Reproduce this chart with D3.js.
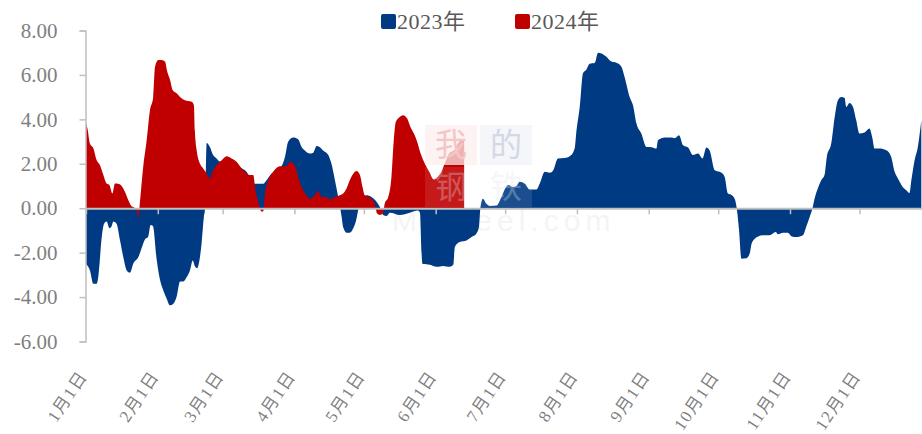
<!DOCTYPE html>
<html>
<head>
<meta charset="utf-8">
<script src="https://cdn.jsdelivr.net/npm/d3@7/dist/d3.min.js"></script>
<style>
  html, body { margin: 0; padding: 0; background: #fff; }
  svg { display: block; }
</style>
</head>
<body>
<svg id="chart" width="922" height="434"></svg>
<script>
// day-of-year offsets (0 = 1月1日) and values
const days2023 = [0, 1.7, 3.2, 4.6, 5.3, 6.8, 7.8, 8.9, 10.1, 11.1, 11.8, 13.2, 14.7, 16.1, 17.6, 19, 20.4, 22.6, 24, 25.5, 26.8, 27.9, 28.9, 30.5, 31.9, 33.4, 34.8, 36.3, 37.7, 39.1, 40.6, 42, 43.5, 44.9, 46.1, 47, 48, 48.9, 49.9, 50.9, 51.4, 52.1, 53.5, 54.9, 56.4, 57.8, 60, 63, 66.5, 69.4, 72.2, 76.5, 78, 80.1, 83, 85.9, 87.3, 89.5, 91.6, 93.1, 94.5, 96.7, 98.1, 99.6, 101, 102.4, 104.6, 106, 107.5, 108.9, 109.6, 110.4, 111, 112.5, 113.9, 115.4, 116.8, 117.5, 119.1, 121.1, 123.3, 125.5, 126.9, 128.3, 129.8, 131.2, 135.5, 139.8, 143.3, 144.2, 144.9, 145.3, 148.5, 151.4, 154.2, 157.1, 158.6, 159.3, 161.4, 164.3, 166.5, 168.6, 169.7, 170.3, 171.4, 172.9, 174.4, 177.3, 179.4, 180.8, 182.3, 184.4, 185.9, 187.3, 189.5, 191.6, 194.5, 195.9, 198.1, 200.3, 201.7, 203.8, 206.7, 208.9, 211, 211.8, 213.2, 214.6, 216.1, 217.5, 219.7, 221.1, 222.6, 224.7, 226.9, 229, 231.2, 232.6, 234.8, 236.2, 237.7, 239.8, 242, 244.2, 246.3, 247, 249.9, 252.8, 254.2, 256.1, 257.8, 260, 262.1, 264.3, 266.2, 267.9, 269.3, 271.5, 274.4, 275.8, 277.2, 278.7, 280.1, 281, 282, 283, 285.2, 286.6, 287.4, 288.8, 290.2, 292.3, 295.2, 297.8, 298.8, 301, 303.1, 304.6, 306.7, 309.6, 311, 312.5, 313.6, 314.6, 316, 317.5, 318.9, 319.9, 321.8, 323.3, 324.7, 326.2, 327.6, 328.3, 329.7, 331.2, 332.6, 334, 336.2, 338.3, 339.5, 340.5, 342.6, 345.6, 347.7, 349.2, 350.6, 352.7, 354.2, 355.6, 356.4, 357.8, 359.2, 360.7]
const values2023 = [-2.5, -2.8, -3.4, -3.4, -3.1, -1.3, -0.7, -0.6, -0.9, -0.8, -0.6, -0.7, -1.45, -2.2, -2.8, -2.9, -2.5, -2.2, -1.8, -1.4, -1.3, -0.75, -0.8, -2.3, -3.2, -3.7, -4.06, -4.37, -4.3, -4.0, -3.3, -3.3, -3.1, -2.8, -2.35, -2.6, -2.7, -2.4, -1.6, -0.4, 0, 2.94, 2.76, 2.39, 2.24, 2.1, 2.15, 2.2, 1.86, 1.63, 1.1, 1.1, 1.26, 1.55, 1.7, 2.3, 2.99, 3.18, 3.1, 2.76, 2.6, 2.46, 2.5, 2.8, 2.75, 2.6, 2.4, 2.0, 1.26, 0.5, 0.1, -0.4, -0.84, -1.1, -1.1, -0.9, -0.47, -0.1, 0.3, 0.58, 0.5, 0.28, 0.05, -0.3, -0.35, -0.2, -0.3, -0.2, -0.1, -0.2, -2.0, -2.5, -2.55, -2.64, -2.6, -2.64, -2.55, -1.74, -1.52, -1.45, -1.3, -1.14, -0.84, 0, 0.43, 0.2, 0.1, 0.12, 0.5, 0.84, 1.04, 0.95, 1.0, 1.19, 1.1, 0.84, 0.84, 1.1, 1.64, 1.6, 1.7, 2.24, 2.26, 2.34, 2.69, 3.5, 4.56, 6.07, 6.25, 6.5, 6.55, 7.0, 6.97, 6.82, 6.6, 6.55, 6.37, 5.9, 5.0, 4.64, 3.81, 3.36, 2.76, 2.75, 2.69, 3.06, 3.18, 3.18, 3.15, 3.29, 2.84, 2.73, 2.39, 2.46, 2.24, 2.73, 2.6, 1.71, 1.6, 1.41, 0.66, 0.6, 0.43, 0, -1.0, -2.27, -2.25, -2.04, -1.6, -1.37, -1.27, -1.22, -1.22, -1.07, -1.17, -1.1, -1.1, -1.26, -1.3, -1.22, -0.84, -0.39, -0.05, 0.43, 0.89, 1.26, 1.49, 2.31, 2.91, 4.11, 4.86, 5.01, 4.96, 4.56, 4.74, 4.56, 3.96, 3.36, 3.41, 3.59, 3.2, 2.69, 2.69, 2.61, 2.31, 1.64, 1.34, 0.96, 0.81, 0.69, 1.26, 2.16, 2.76, 3.96]

const days2024 = [0, 0.6, 1.7, 3.2, 4.6, 6, 7.5, 8.9, 10.1, 11.4, 12.5, 13.8, 15.4, 16.8, 18.3, 19.7, 20.4, 21.9, 22.6, 23.3, 24.7, 26.2, 27.6, 29, 29.8, 31.2, 32.7, 34.1, 35.1, 36.3, 37.4, 39.1, 40.6, 42.7, 45.6, 46.6, 47, 47.8, 49.2, 50.6, 52.1, 53.5, 54.9, 56.4, 58.6, 60.7, 62.9, 65, 67.2, 68.6, 70.8, 72.2, 73.2, 74.4, 75.8, 76.5, 77.3, 78.7, 80.8, 83.7, 86.6, 88.1, 89.5, 90.9, 91.6, 93.1, 94.5, 96.7, 98.8, 100.3, 101.7, 103.9, 105.3, 107.5, 109.6, 111, 112.5, 113.9, 115.7, 116.8, 118.3, 119.4, 120.4, 122.6, 124.7, 125.7, 126.9, 128.3, 129, 130.5, 131.9, 132.9, 133.8, 135.5, 136.9, 138.7, 140.1, 141.6, 143, 144.5, 146.3, 148.2, 150.2, 152.1, 153.5, 154.9, 156.8, 159.3, 161.1, 162.8, 163.3]
const values2024 = [3.81, 3.6, 2.91, 2.69, 2.16, 1.94, 1.49, 1.11, 1.05, 0.66, 1.11, 1.1, 1.0, 0.74, 0.36, 0.09, 0.05, -0.1, -0.45, 0.3, 1.86, 3.06, 4.41, 5.0, 6.37, 6.67, 6.67, 6.6, 6.14, 5.77, 5.32, 5.17, 5.01, 4.86, 4.79, 4.64, 3.51, 2.61, 2.01, 1.79, 1.56, 1.34, 1.71, 1.94, 2.16, 2.34, 2.24, 2.09, 1.79, 1.64, 1.49, 1.49, 0.81, 0.28, -0.15, -0.15, 0.66, 1.26, 1.64, 1.89, 1.89, 2.09, 2.0, 1.71, 1.41, 0.96, 0.69, 0.43, 0.58, 0.78, 0.5, 0.5, 0.39, 0.5, 0.58, 0.66, 0.89, 1.26, 1.59, 1.67, 1.5, 0.96, 0.58, 0.48, 0.21, -0.24, -0.3, -0.2, 0.21, 0.51, 1.41, 3.06, 3.89, 4.11, 4.19, 4.04, 3.66, 3.36, 2.99, 2.46, 2.01, 1.64, 1.29, 1.44, 1.64, 2.01, 2.46, 2.64, 2.99, 3.09, 3.0]

const monthStarts = [0, 31, 59, 90, 120, 151, 181, 212, 243, 273, 304, 334]
const monthLabels = ['1月1日', '2月1日', '3月1日', '4月1日', '5月1日', '6月1日', '7月1日', '8月1日', '9月1日', '10月1日', '11月1日', '12月1日']
const yTicks = [-6, -4, -2, 0, 2, 4, 6, 8]
const seriesNames = ['2023年', '2024年']
const seriesColors = ['#003a83', '#c00000']

const FONT = '"Liberation Serif", "Times New Roman", "Noto Sans CJK SC", serif'
const svg = d3.select('#chart')

const x = d3.scaleLinear().domain([0, 361]).range([86, 922])
const y = d3.scaleLinear().domain([-6, 8]).range([341.5, 30.5])

const area = d3.area()
  .x(d => x(d[0]))
  .y0(y(0))
  .y1(d => y(d[1]))
  .curve(d3.curveMonotoneX)

// faint text of the watermark, under the areas
svg.append('text')
  .attr('x', 392).attr('y', 231)
  .attr('font-family', '"Liberation Sans", Arial, sans-serif')
  .attr('font-size', 30).attr('letter-spacing', 5)
  .attr('fill', '#000').attr('opacity', 0.04)
  .text('Mysteel.com')

const series = [d3.zip(days2023, values2023), d3.zip(days2024, values2024)]

svg.append('g').attr('class', 'areas')
  .selectAll('path')
  .data(series)
  .join('path')
  .attr('d', area)
  .attr('fill', (d, i) => seriesColors[i])

// watermark boxes sit on top of the areas
const wmBoxes = [
  { ch: '我', x: 425, y: 125, bg: '#fcefef', fg: '#f4c6c6', op: 0.75 },
  { ch: '的', x: 480, y: 125, bg: '#f1f3f8', fg: '#d3d8e6', op: 0.75 },
  { ch: '钢', x: 425, y: 167, bg: '#ffffff', fg: '#dfe2ea', op: 0.1 },
  { ch: '铁', x: 480, y: 167, bg: '#ffffff', fg: '#dfe2ea', op: 0.1 }
]
const wm = svg.append('g').attr('class', 'watermark')
  .selectAll('g').data(wmBoxes).join('g')
  .attr('transform', d => `translate(${d.x},${d.y})`)
wm.append('rect').attr('width', 52).attr('height', 40)
  .attr('fill', d => d.bg).attr('opacity', d => d.op)
wm.append('text').attr('x', 26).attr('y', 31).attr('text-anchor', 'middle')
  .attr('font-family', FONT).attr('font-size', 32)
  .attr('fill', d => d.fg).attr('opacity', d => d.op < 0.5 ? 0.3 : 1)
  .text(d => d.ch)

// y axis
const yAxis = svg.append('g')
  .attr('transform', `translate(${x(0) - 0.5},0)`)
  .call(d3.axisLeft(y).tickValues(yTicks)
    .tickFormat(d => d3.format('.2f')(d).replace('−', '-'))
    .tickSize(6).tickPadding(22))
yAxis.select('.domain').attr('stroke', '#bfbfbf').attr('stroke-width', 1.5)
yAxis.selectAll('.tick line').attr('stroke', '#bfbfbf').attr('stroke-width', 1.5)
yAxis.selectAll('.tick text')
  .attr('fill', '#7f7f7f').attr('font-family', FONT).attr('font-size', 21)

// x axis along zero line
const xAxis = svg.append('g')
  .attr('transform', `translate(0,${y(0)})`)
  .call(d3.axisBottom(x).tickValues(monthStarts).tickFormat('').tickSize(6).tickSizeOuter(0))
xAxis.select('.domain').attr('stroke', '#bfbfbf').attr('stroke-width', 2)
xAxis.selectAll('.tick line').attr('stroke', '#bfbfbf').attr('stroke-width', 1.5)

svg.append('g').attr('class', 'xlabels')
  .selectAll('text')
  .data(monthStarts)
  .join('text')
  .attr('transform', d => `translate(${x(d) + 2},376) rotate(-56)`)
  .attr('text-anchor', 'end')
  .attr('fill', '#7f7f7f')
  .attr('font-family', FONT)
  .attr('font-size', 17)
  .attr('letter-spacing', 1.5)
  .text((d, i) => monthLabels[i])

// legend
const legendX = [381, 515]
const legend = svg.append('g').attr('class', 'legend')
  .selectAll('g')
  .data(seriesNames)
  .join('g')
  .attr('transform', (d, i) => `translate(${legendX[i]},14)`)
legend.append('rect')
  .attr('width', 15).attr('height', 15).attr('rx', 2)
  .attr('fill', (d, i) => seriesColors[i])
legend.append('text')
  .attr('x', 16).attr('y', 15)
  .attr('fill', '#595959').attr('font-family', FONT).attr('font-size', 22)
  .attr('letter-spacing', 0.5)
  .text(d => d)
</script>
</body>
</html>
